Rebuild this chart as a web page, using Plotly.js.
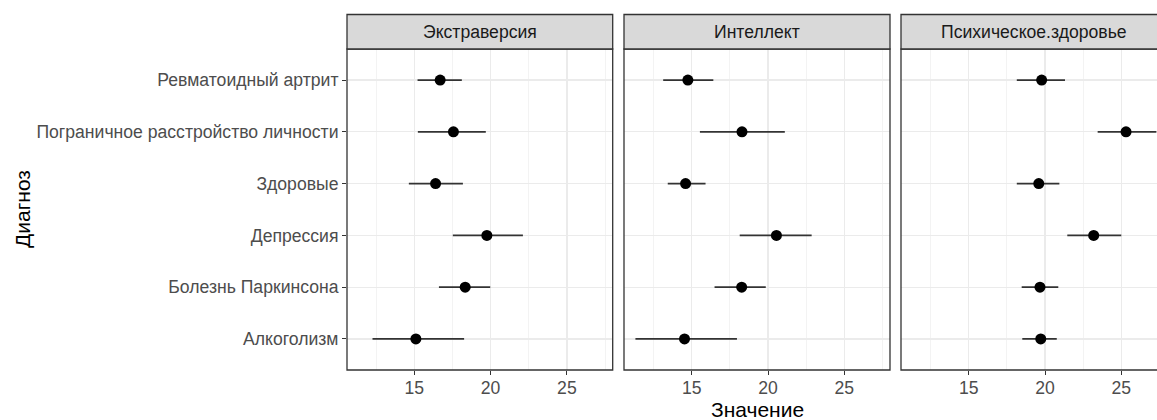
<!DOCTYPE html>
<html>
<head>
<meta charset="utf-8">
<script src="https://cdn.plot.ly/plotly-3.0.1.min.js"></script>
<style>html,body{margin:0;padding:0;background:#fff;}#chart{width:1157px;height:420px;}</style>
</head>
<body>
<div id="chart"></div>
<script>
// Categories, bottom to top
const diagnoses = ["Алкоголизм", "Болезнь Паркинсона", "Депрессия", "Здоровые", "Пограничное расстройство личности", "Ревматоидный артрит"];
const facets = ["Экстраверсия", "Интеллект", "Психическое.здоровье"];

// Экстраверсия
const extMean = [15.11, 18.34, 19.76, 16.40, 17.57, 16.70];
const extLow  = [12.27, 16.62, 17.53, 14.65, 15.24, 15.22];
const extHigh = [18.27, 19.98, 22.12, 18.19, 19.69, 18.12];
// Интеллект
const intMean = [14.52, 18.27, 20.55, 14.59, 18.29, 14.74];
const intLow  = [11.30, 16.49, 18.14, 13.42, 15.53, 13.12];
const intHigh = [17.96, 19.85, 22.86, 15.90, 21.10, 16.41];
// Психическое.здоровье
const mhMean = [19.72, 19.67, 23.19, 19.59, 25.31, 19.78];
const mhLow  = [18.51, 18.47, 21.46, 18.15, 23.45, 18.15];
const mhHigh = [20.77, 20.87, 25.00, 20.94, 27.30, 21.31];

const xTicks = [15, 20, 25];

const series = [
  {mean: extMean, low: extLow, high: extHigh},
  {mean: intMean, low: intLow, high: intHigh},
  {mean: mhMean, low: mhLow, high: mhHigh}
];

const FONT = "Liberation Sans, Arial, sans-serif";
const SMALL = 17.6;
const BIG = 21;
const W = 810; // plot area width in px (from margin.l to right edge)
const H = 321;
const px = v => v / W;
const domains = [[0, px(265.7)], [px(277), px(543)], [px(554), 1]];
const ranges = [[10.6, 28.0], [10.55, 28.0], [10.56, 27.34]];

const traces = series.map((s, i) => ({
  type: "scatter",
  mode: "markers",
  x: s.mean,
  y: diagnoses,
  xaxis: i === 0 ? "x" : "x" + (i + 1),
  yaxis: i === 0 ? "y" : "y" + (i + 1),
  marker: {color: "#000000", size: 11},
  error_x: {
    type: "data",
    symmetric: false,
    array: s.high.map((h, k) => h - s.mean[k]),
    arrayminus: s.mean.map((m, k) => m - s.low[k]),
    width: 0,
    thickness: 1.8,
    color: "#333333"
  },
  hoverinfo: "x+y",
  showlegend: false,
  cliponaxis: true
}));

const layout = {
  width: 1157, height: 420,
  margin: {l: 347, r: 0, t: 49, b: 50},
  paper_bgcolor: "#ffffff",
  plot_bgcolor: "#ffffff",
  font: {family: FONT, color: "#4d4d4d", size: SMALL},
  showlegend: false,
  shapes: [],
  annotations: []
};

for (let i = 0; i < 3; i++) {
  const xn = i === 0 ? "xaxis" : "xaxis" + (i + 1);
  const yn = i === 0 ? "yaxis" : "yaxis" + (i + 1);
  const xr = i === 0 ? "x" : "x" + (i + 1);
  const yr = i === 0 ? "y" : "y" + (i + 1);
  layout[xn] = {
    domain: domains[i],
    range: ranges[i],
    anchor: yr,
    tickmode: "array",
    tickvals: xTicks,
    ticktext: xTicks.map(String),
    ticks: "outside",
    ticklen: 4,
    tickwidth: 1,
    tickcolor: "#333333",
    ticklabelstandoff: -2,
    tickfont: {family: FONT, size: SMALL, color: "#4d4d4d"},
    showgrid: true,
    gridcolor: "#ebebeb",
    gridwidth: 1.3,
    minor: {tickvals: [12.5, 17.5, 22.5, 27.5], showgrid: true, gridcolor: "#f0f0f0", gridwidth: 0.8, ticks: ""},
    zeroline: false,
    showline: false,
    fixedrange: true
  };
  layout[yn] = {
    domain: [0, 1],
    anchor: xr,
    type: "category",
    categoryorder: "array",
    categoryarray: diagnoses,
    range: [-0.6, 5.6],
    showticklabels: i === 0,
    ticks: i === 0 ? "outside" : "",
    ticklen: 4,
    tickwidth: 1,
    tickcolor: "#333333",
    tickfont: {family: FONT, size: SMALL, color: "#4d4d4d"},
    showgrid: true,
    gridcolor: "#ebebeb",
    gridwidth: 1.3,
    zeroline: false,
    showline: false,
    fixedrange: true
  };
  // panel border
  const x0 = domains[i][0], x1 = i === 2 ? 1.02 : domains[i][1];
  layout.shapes.push({type: "rect", xref: "paper", yref: "paper", x0: x0, x1: x1, y0: 0, y1: 1,
    line: {color: "#333333", width: 1.3}, fillcolor: "rgba(0,0,0,0)", layer: "above"});
  // strip
  layout.shapes.push({type: "rect", xref: "paper", yref: "paper", x0: x0, x1: x1, y0: 1, y1: 1 + 34.5 / H,
    line: {color: "#333333", width: 1.3}, fillcolor: "#d9d9d9", layer: "above"});
  const cx = i === 2 ? (domains[i][0] + (domains[i][0] + px(265.7))) / 2 : (domains[i][0] + domains[i][1]) / 2;
  layout.annotations.push({xref: "paper", yref: "paper", x: cx, y: 1 + 17.25 / H, text: facets[i],
    showarrow: false, xanchor: "center", yanchor: "middle",
    font: {family: FONT, size: SMALL, color: "#1a1a1a"}});
}

// axis titles
layout.annotations.push({xref: "paper", yref: "paper", x: (757 - 347) / W, y: -52 / H, yanchor: "bottom", borderpad: 0,
  text: "Значение", showarrow: false, xanchor: "center", font: {family: FONT, size: BIG, color: "#000000"}});
layout.annotations.push({xref: "paper", yref: "paper", x: -(347 - 9) / W, y: 0.5, xanchor: "left", yanchor: "middle",
  text: "Диагноз", textangle: -90, showarrow: false, font: {family: FONT, size: BIG, color: "#000000"}});

Plotly.newPlot("chart", traces, layout, {displayModeBar: false, staticPlot: true});
</script>
</body>
</html>
